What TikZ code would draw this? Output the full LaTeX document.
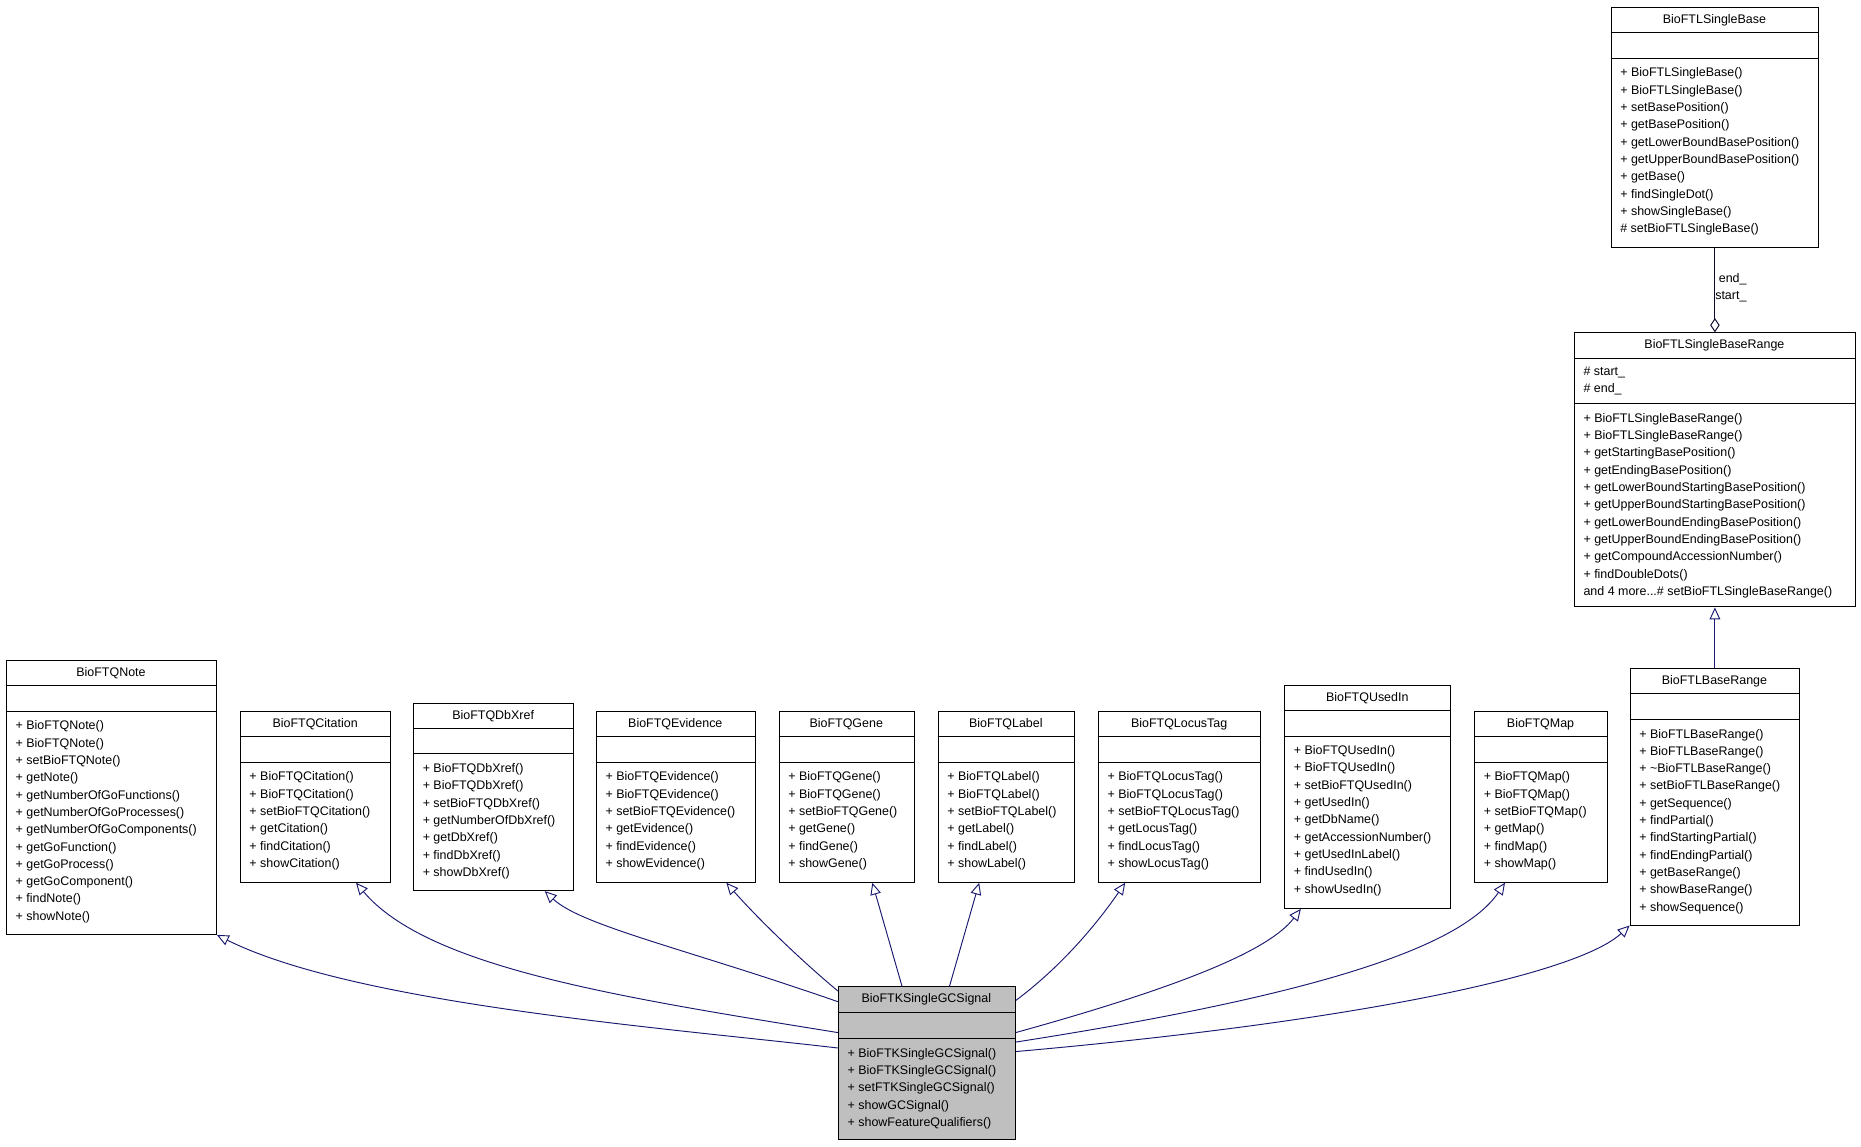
\documentclass[tikz,border=0pt]{standalone}
\usepackage{fontspec}
\setmainfont{Liberation Sans}
\usetikzlibrary{arrows.meta}
\definecolor{edge}{HTML}{191970}
\newcommand{\cls}[9]{%
% #1 name #2 x #3 y #4 w #5 h #6 title #7 sep2 offset #8 content #9 fill
\node[box,fill=#9,minimum width=#4,minimum height=#5,anchor=north west] (#1) at (#2,#3) {};
\node[txt,anchor=center] (#1-t) at (#2+#4/2,#3+11) {#6};
\draw (#2,#3+21.5) -- (#2+#4,#3+21.5);
\draw (#2,#3+#7) -- (#2+#4,#3+#7);
\node[txt,anchor=north west,align=left] (#1-m) at (#2+8,#3+#7+8) {#8};
}
\begin{document}
\begin{tikzpicture}[x=1pt,y=-1pt,
  box/.style={draw,line width=0.8pt,inner sep=0},
  txt/.style={inner sep=0,font=\fontsize{10.5}{14.6}\selectfont},
  inh/.style={draw=edge,line width=0.8pt,-{Triangle[open,length=10pt,width=9pt]}},
  agg/.style={draw=edge!40!black,line width=0.8pt,-{Diamond[open,length=12pt,width=8pt]}}]
\useasboundingbox (0,0) rectangle (1568,966);
\cls{note}{5}{556}{177}{231}{BioFTQNote}{43}{+ BioFTQNote()\\+ BioFTQNote()\\+ setBioFTQNote()\\+ getNote()\\+ getNumberOfGoFunctions()\\+ getNumberOfGoProcesses()\\+ getNumberOfGoComponents()\\+ getGoFunction()\\+ getGoProcess()\\+ getGoComponent()\\+ findNote()\\+ showNote()}{white}
\cls{cit}{202}{599}{127}{144}{BioFTQCitation}{43}{+ BioFTQCitation()\\+ BioFTQCitation()\\+ setBioFTQCitation()\\+ getCitation()\\+ findCitation()\\+ showCitation()}{white}
\cls{dbx}{348}{592}{135}{158}{BioFTQDbXref}{43}{+ BioFTQDbXref()\\+ BioFTQDbXref()\\+ setBioFTQDbXref()\\+ getNumberOfDbXref()\\+ getDbXref()\\+ findDbXref()\\+ showDbXref()}{white}
\cls{evi}{502}{599}{134}{144}{BioFTQEvidence}{43}{+ BioFTQEvidence()\\+ BioFTQEvidence()\\+ setBioFTQEvidence()\\+ getEvidence()\\+ findEvidence()\\+ showEvidence()}{white}
\cls{gene}{656}{599}{114}{144}{BioFTQGene}{43}{+ BioFTQGene()\\+ BioFTQGene()\\+ setBioFTQGene()\\+ getGene()\\+ findGene()\\+ showGene()}{white}
\cls{label}{790}{599}{115}{144}{BioFTQLabel}{43}{+ BioFTQLabel()\\+ BioFTQLabel()\\+ setBioFTQLabel()\\+ getLabel()\\+ findLabel()\\+ showLabel()}{white}
\cls{locus}{925}{599}{137}{144}{BioFTQLocusTag}{43}{+ BioFTQLocusTag()\\+ BioFTQLocusTag()\\+ setBioFTQLocusTag()\\+ getLocusTag()\\+ findLocusTag()\\+ showLocusTag()}{white}
\cls{used}{1082}{577}{140}{188}{BioFTQUsedIn}{43}{+ BioFTQUsedIn()\\+ BioFTQUsedIn()\\+ setBioFTQUsedIn()\\+ getUsedIn()\\+ getDbName()\\+ getAccessionNumber()\\+ getUsedInLabel()\\+ findUsedIn()\\+ showUsedIn()}{white}
\cls{map}{1242}{599}{112}{144}{BioFTQMap}{43}{+ BioFTQMap()\\+ BioFTQMap()\\+ setBioFTQMap()\\+ getMap()\\+ findMap()\\+ showMap()}{white}
\cls{br}{1373}{563}{143}{216}{BioFTLBaseRange}{43}{+ BioFTLBaseRange()\\+ BioFTLBaseRange()\\+ \textasciitilde BioFTLBaseRange()\\+ setBioFTLBaseRange()\\+ getSequence()\\+ findPartial()\\+ findStartingPartial()\\+ findEndingPartial()\\+ getBaseRange()\\+ showBaseRange()\\+ showSequence()}{white}
\cls{sbr}{1326}{280}{237}{231}{BioFTLSingleBaseRange}{60}{+ BioFTLSingleBaseRange()\\+ BioFTLSingleBaseRange()\\+ getStartingBasePosition()\\+ getEndingBasePosition()\\+ getLowerBoundStartingBasePosition()\\+ getUpperBoundStartingBasePosition()\\+ getLowerBoundEndingBasePosition()\\+ getUpperBoundEndingBasePosition()\\+ getCompoundAccessionNumber()\\+ findDoubleDots()\\and 4 more...\# setBioFTLSingleBaseRange()}{white}
\node[txt,anchor=north west,align=left] (sbr-a) at (1334,309) {\# start\_\\\# end\_};
\cls{sb}{1357}{6}{175}{202}{BioFTLSingleBase}{43}{+ BioFTLSingleBase()\\+ BioFTLSingleBase()\\+ setBasePosition()\\+ getBasePosition()\\+ getLowerBoundBasePosition()\\+ getUpperBoundBasePosition()\\+ getBase()\\+ findSingleDot()\\+ showSingleBase()\\\# setBioFTLSingleBase()}{white}
\cls{sig}{706}{831}{149}{129}{BioFTKSingleGCSignal}{44}{+ BioFTKSingleGCSignal()\\+ BioFTKSingleGCSignal()\\+ setFTKSingleGCSignal()\\+ showGCSignal()\\+ showFeatureQualifiers()}{black!25}
% inheritance
\draw[inh] ([yshift=-52]sig.north west) .. controls (560,866) and (300,846) .. (note.south east);
\draw[inh] ([yshift=-39]sig.north west) .. controls (520,840) and (360,815) .. ([xshift=98]cit.south west);
\draw[inh] ([yshift=-13]sig.north west) .. controls (580,800) and (490,780) .. ([xshift=111]dbx.south west);
\draw[inh] ([yshift=-4]sig.north west) .. controls (670,805) and (635,770) .. ([xshift=110]evi.south west);
\draw[inh] ([xshift=54]sig.north west) -- ([xshift=79]gene.south west);
\draw[inh] ([xshift=94]sig.north west) -- ([xshift=35]label.south west);
\draw[inh] ([yshift=-12]sig.north east) .. controls (900,810) and (930,770) .. ([xshift=23]locus.south west);
\draw[inh] ([yshift=-39]sig.north east) .. controls (1000,830) and (1070,800) .. ([xshift=14]used.south west);
\draw[inh] ([yshift=-47]sig.north east) .. controls (1100,840) and (1230,800) .. ([xshift=26]map.south west);
\draw[inh] ([yshift=-55]sig.north east) .. controls (1150,860) and (1330,820) .. (br.south west);
\draw[inh] (br.north) -- (sbr.south -| br.north);
% aggregation
\draw[agg] (sb.south) -- (sbr.north -| sb.south);
\node[txt,anchor=west] (lend) at (1448,235) {end\_};
\node[txt,anchor=west] (lstart) at (1445,250) {start\_};
\end{tikzpicture}
\end{document}
